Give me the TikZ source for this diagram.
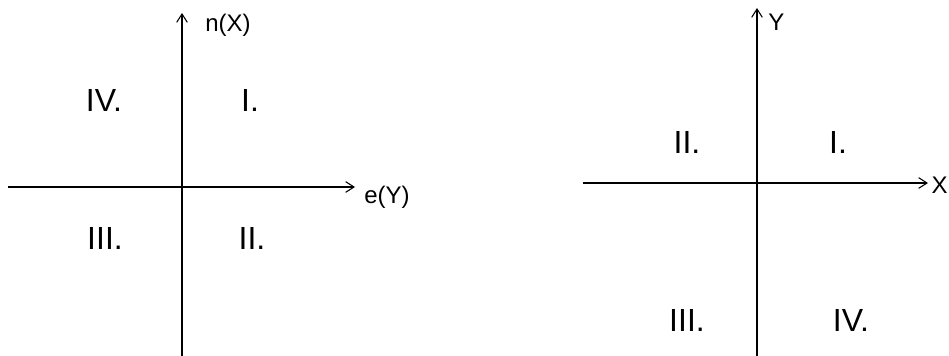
\documentclass[tikz,border=0pt]{standalone}
\usepackage{fontspec}
\setmainfont{Liberation Sans}
\usetikzlibrary{arrows.meta}
\tikzset{
  axisline/.style={-{Straight Barb[length=2.2mm,width=2.8mm]},line width=0.8pt,draw=black},
  axislabel/.style={font=\fontsize{18}{20}\selectfont,inner sep=0pt},
  quadlabel/.style={font=\fontsize{24}{26}\selectfont,inner sep=0pt}
}

\begin{document}
\begin{tikzpicture}[x=0.75pt,y=-0.75pt]
\useasboundingbox (0,0) rectangle (949,356);
% left cross: n(X) up, e(Y) right
\coordinate (lw) at (8,187);
\coordinate (le) at (355,187);
\coordinate (ls) at (182,356);
\coordinate (ln) at (182,13);
\draw[axisline] (lw) -- (le);
\draw[axisline] (ls) -- (ln);
\node[axislabel,anchor=west] (ey) at (364,197) {e(Y)};
\node[axislabel] (nx) at (228,25) {n(X)};
\node[quadlabel] (l1) at (250,100) {I.};
\node[quadlabel] (l2) at (252,238) {II.};
\node[quadlabel] (l3) at (105,238) {III.};
\node[quadlabel] (l4) at (104,100) {IV.};
% right cross: Y up, X right
\coordinate (rw) at (583,183);
\coordinate (re) at (928,183);
\coordinate (rs) at (757,356);
\coordinate (rn) at (757,8);
\draw[axisline] (rw) -- (re);
\draw[axisline] (rs) -- (rn);
\node[axislabel,anchor=east] (xx) at (948,185) {X};
\node[axislabel,anchor=west] (yy) at (768,22) {Y};
\node[quadlabel] (r1) at (838,142) {I.};
\node[quadlabel] (r2) at (687,142) {II.};
\node[quadlabel] (r3) at (687,320) {III.};
\node[quadlabel] (r4) at (851,320) {IV.};
\end{tikzpicture}
\end{document}
